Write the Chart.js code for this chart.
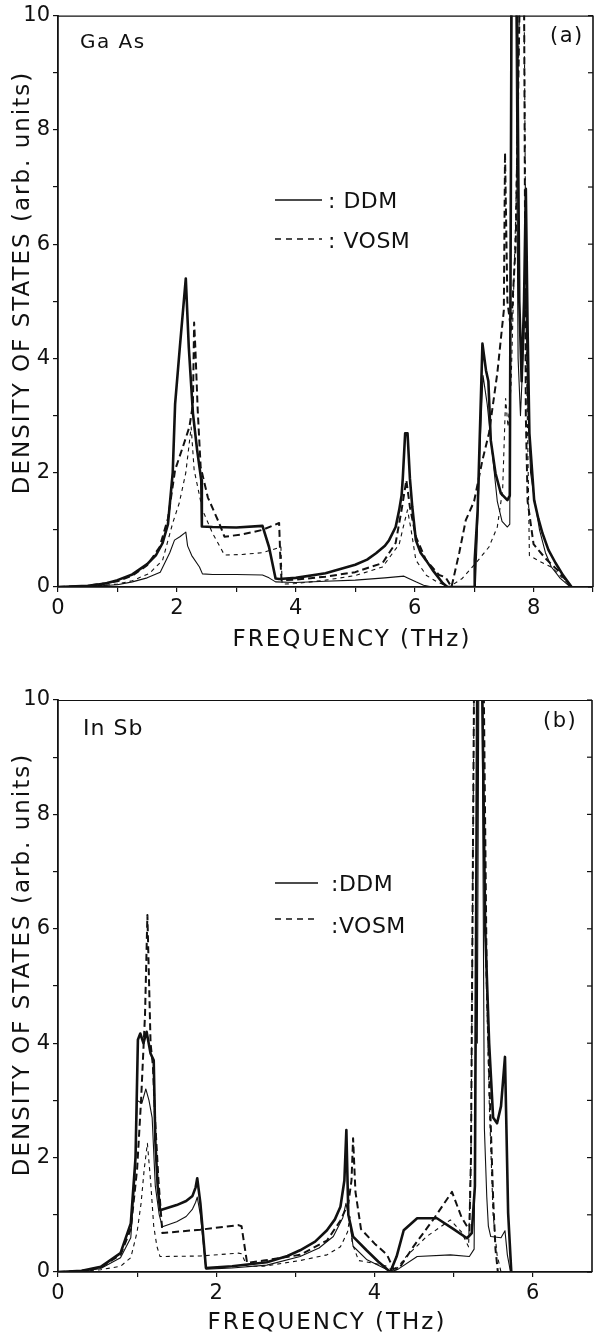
<!DOCTYPE html>
<html>
<head>
<meta charset="utf-8">
<script src="https://cdn.jsdelivr.net/npm/chart.js@4.4.1/dist/chart.umd.min.js"></script>
<style>
html,body{margin:0;padding:0;background:#fff;width:597px;height:1338px;overflow:hidden;}
.box{position:absolute;left:0;width:597px;}
canvas{display:block;}
</style>
</head>
<body>
<div class="box" style="top:0;height:670px"><canvas id="c1" width="597" height="670"></canvas></div>
<div class="box" style="top:680px;height:658px"><canvas id="c2" width="597" height="658"></canvas></div>
<script>
// ---------------- DATA ----------------
const legendLabels = ['DDM', 'VOSM'];
const yTickLabels = ['0', '2', '4', '6', '8', '10'];
const gaasXTickLabels = ['0', '2', '4', '6', '8'];
const insbXTickLabels = ['0', '2', '4', '6'];
const yTitle = 'DENSITY OF STATES (arb. units)';
const xTitle = 'FREQUENCY (THz)';

// (a) GaAs  — frequency (THz) / density of states
const gaasDdmThickF = [0, 0.5, 0.8, 1.0, 1.25, 1.5, 1.65, 1.76, 1.85, 1.93, 1.97, 2.05, 2.15, 2.2, 2.27, 2.34, 2.41, 2.42, 2.6, 3.0, 3.44, 3.55, 3.66, 3.72, 4.0, 4.5, 5.0, 5.2, 5.35, 5.5, 5.57, 5.68, 5.74, 5.78, 5.8, 5.84, 5.88, 5.92, 5.96, 6.02, 6.1, 6.19, 6.3, 6.47, 6.55, 7.0, 7.01, 7.06, 7.14, 7.2, 7.24, 7.28, 7.36, 7.45, 7.56, 7.6, 7.63, 7.72, 7.76, 7.8, 7.84, 7.87, 7.9, 7.93, 8.01, 8.08, 8.15, 8.25, 8.37, 8.5, 8.64];
const gaasDdmThickV = [0, 0.02, 0.06, 0.12, 0.22, 0.4, 0.56, 0.77, 1.1, 2.0, 3.2, 4.2, 5.4, 4.2, 3.04, 2.4, 1.87, 1.06, 1.05, 1.04, 1.07, 0.7, 0.15, 0.14, 0.16, 0.24, 0.39, 0.48, 0.59, 0.72, 0.82, 1.05, 1.35, 1.6, 1.9, 2.69, 2.69, 1.9, 1.4, 0.82, 0.6, 0.47, 0.3, 0.07, 0, 0, 0.47, 1.35, 4.26, 3.79, 3.6, 2.57, 1.99, 1.64, 1.52, 1.6, 10.5, 10.5, 5.0, 3.6, 5.0, 6.97, 4.5, 2.69, 1.52, 1.2, 0.94, 0.65, 0.42, 0.2, 0];

const gaasDdmThinF = [0, 0.5, 1.0, 1.25, 1.5, 1.72, 1.88, 1.96, 2.05, 2.15, 2.18, 2.25, 2.38, 2.43, 2.6, 3.0, 3.44, 3.55, 3.66, 4.0, 4.5, 5.0, 5.5, 5.82, 5.9, 6.02, 6.15, 6.3, 7.02, 7.05, 7.1, 7.15, 7.22, 7.3, 7.39, 7.47, 7.56, 7.6, 7.62, 7.7, 7.74, 7.78, 7.83, 7.87, 7.9, 7.95, 8.01, 8.1, 8.2, 8.3, 8.45, 8.62];
const gaasDdmThinV = [0, 0.01, 0.04, 0.09, 0.16, 0.26, 0.6, 0.82, 0.88, 0.96, 0.72, 0.55, 0.35, 0.23, 0.22, 0.22, 0.21, 0.16, 0.09, 0.08, 0.1, 0.12, 0.16, 0.19, 0.15, 0.09, 0.03, 0, 0, 0.8, 2.5, 3.7, 3.2, 2.4, 1.5, 1.15, 1.05, 1.1, 10.5, 10.5, 4.0, 3.0, 4.2, 5.2, 3.3, 2.0, 1.57, 1.0, 0.6, 0.35, 0.15, 0];

const gaasVosmThickF = [0, 0.5, 1.0, 1.25, 1.5, 1.71, 1.85, 1.97, 2.1, 2.21, 2.27, 2.29, 2.31, 2.35, 2.4, 2.52, 2.71, 2.8, 3.1, 3.44, 3.72, 3.74, 3.76, 4.0, 4.5, 5.0, 5.46, 5.68, 5.78, 5.86, 5.92, 6.02, 6.19, 6.41, 6.52, 6.62, 6.75, 6.86, 7.0, 7.14, 7.25, 7.39, 7.5, 7.52, 7.56, 7.62, 7.7, 7.77, 7.84, 7.87, 7.9, 8.0, 8.2, 8.4, 8.64];
const gaasVosmThickV = [0, 0.02, 0.1, 0.2, 0.38, 0.7, 1.2, 2.05, 2.45, 2.8, 3.2, 4.63, 4.2, 3.1, 2.1, 1.57, 1.12, 0.88, 0.92, 1.0, 1.12, 0.5, 0.12, 0.13, 0.18, 0.26, 0.42, 0.77, 1.35, 1.87, 1.4, 0.88, 0.47, 0.21, 0.17, 0, 0.6, 1.17, 1.5, 2.22, 2.69, 3.74, 4.84, 7.6, 5.0, 4.5, 6.0, 10.5, 10.5, 3.0, 1.5, 0.75, 0.5, 0.3, 0];

const gaasVosmThinF = [0, 0.5, 1.0, 1.25, 1.54, 1.76, 1.93, 2.04, 2.15, 2.24, 2.29, 2.43, 2.6, 2.8, 3.1, 3.44, 3.75, 3.77, 4.0, 4.5, 5.0, 5.46, 5.74, 5.82, 5.88, 5.94, 6.02, 6.2, 6.36, 6.58, 6.8, 7.03, 7.25, 7.39, 7.48, 7.53, 7.57, 7.62, 7.7, 7.77, 7.84, 7.88, 7.91, 7.93, 8.1, 8.3, 8.64];
const gaasVosmThinV = [0, 0.01, 0.05, 0.11, 0.24, 0.47, 1.12, 1.47, 2.0, 2.8, 2.05, 1.35, 0.94, 0.56, 0.57, 0.6, 0.7, 0.05, 0.06, 0.12, 0.2, 0.35, 0.75, 1.1, 1.35, 1.0, 0.47, 0.2, 0.1, 0, 0.15, 0.42, 0.7, 1.05, 1.7, 3.3, 2.8, 3.5, 6.5, 10.5, 10.5, 4.0, 2.0, 0.55, 0.45, 0.35, 0];

// (b) InSb
const insbDdmThickF = [0, 0.3, 0.54, 0.79, 0.92, 0.98, 1.01, 1.04, 1.08, 1.12, 1.17, 1.21, 1.23, 1.26, 1.29, 1.5, 1.62, 1.7, 1.74, 1.76, 1.8, 1.87, 2.2, 2.64, 2.9, 3.06, 3.25, 3.4, 3.5, 3.57, 3.62, 3.645, 3.67, 3.73, 3.9, 4.05, 4.2, 4.28, 4.37, 4.54, 4.79, 5.0, 5.17, 5.23, 5.27, 5.3, 5.36, 5.4, 5.45, 5.5, 5.55, 5.6, 5.65, 5.69, 5.73];
const insbDdmThickV = [0, 0.02, 0.09, 0.33, 0.85, 2.0, 4.06, 4.17, 4.0, 4.2, 3.82, 3.7, 2.3, 1.5, 1.08, 1.17, 1.24, 1.33, 1.48, 1.64, 1.2, 0.07, 0.1, 0.17, 0.28, 0.38, 0.53, 0.73, 0.92, 1.14, 1.6, 2.48, 1.0, 0.62, 0.38, 0.18, 0, 0.27, 0.73, 0.94, 0.94, 0.75, 0.59, 0.68, 1.5, 10.5, 10.5, 6.0, 4.0, 2.7, 2.6, 2.9, 3.76, 1.03, 0];

const insbDdmThinF = [0, 0.3, 0.54, 0.79, 0.92, 0.97, 1.0, 1.06, 1.11, 1.15, 1.19, 1.23, 1.28, 1.32, 1.5, 1.62, 1.7, 1.74, 1.76, 1.8, 1.87, 2.2, 2.64, 3.06, 3.3, 3.48, 3.6, 3.64, 3.69, 3.73, 3.9, 4.15, 4.2, 4.3, 4.54, 4.96, 5.2, 5.26, 5.28, 5.3, 5.32, 5.36, 5.39, 5.42, 5.44, 5.47, 5.6, 5.65, 5.68, 5.72];
const insbDdmThinV = [0, 0.01, 0.06, 0.25, 0.6, 1.6, 3.0, 2.95, 3.2, 3.0, 2.7, 1.5, 1.0, 0.79, 0.88, 0.97, 1.1, 1.22, 1.31, 1.0, 0.05, 0.07, 0.12, 0.27, 0.42, 0.62, 0.95, 1.2, 0.85, 0.45, 0.22, 0.05, 0, 0.05, 0.27, 0.3, 0.27, 0.4, 4.2, 4.0, 10.5, 10.5, 2.5, 1.31, 0.8, 0.62, 0.6, 0.72, 0.3, 0];

const insbVosmThickF = [0, 0.3, 0.54, 0.79, 0.92, 1.0, 1.05, 1.1, 1.13, 1.17, 1.2, 1.23, 1.27, 1.32, 1.8, 2.28, 2.32, 2.39, 2.6, 3.06, 3.4, 3.57, 3.67, 3.71, 3.73, 3.76, 3.83, 4.0, 4.16, 4.24, 4.33, 4.49, 4.74, 4.98, 5.1, 5.2, 5.22, 5.26, 5.38, 5.42, 5.46, 5.5, 5.53, 5.56];
const insbVosmThickV = [0, 0.02, 0.08, 0.3, 0.75, 1.8, 3.0, 4.5, 6.24, 4.0, 3.6, 2.6, 1.6, 0.68, 0.74, 0.82, 0.8, 0.16, 0.2, 0.3, 0.55, 0.9, 1.2, 1.6, 2.34, 1.4, 0.75, 0.5, 0.3, 0.05, 0.1, 0.44, 0.91, 1.4, 0.96, 0.73, 2.0, 10.5, 10.5, 5.0, 3.0, 1.3, 0.4, 0];

const insbVosmThinF = [0, 0.3, 0.54, 0.79, 0.92, 1.0, 1.05, 1.09, 1.13, 1.17, 1.21, 1.25, 1.29, 1.8, 2.28, 2.32, 2.39, 2.6, 3.06, 3.4, 3.57, 3.66, 3.69, 3.72, 3.8, 4.0, 4.16, 4.25, 4.4, 4.66, 4.96, 5.1, 5.19, 5.22, 5.26, 5.36, 5.4, 5.45, 5.5, 5.55, 5.6];
const insbVosmThinV = [0, 0.01, 0.04, 0.1, 0.25, 0.7, 1.2, 1.8, 2.25, 1.6, 0.8, 0.45, 0.27, 0.28, 0.33, 0.32, 0.1, 0.1, 0.2, 0.3, 0.44, 0.7, 0.97, 0.5, 0.2, 0.15, 0.1, 0, 0.27, 0.62, 0.91, 0.7, 0.44, 2.0, 10.5, 10.5, 6.0, 3.0, 1.0, 0.3, 0];

// ---------------- RENDERING ----------------
const INK = '#111';
const FONT = '"DejaVu Sans", "Liberation Sans", sans-serif';

function pts(F, V) { return F.map((f, i) => ({ x: f, y: V[i] })); }

function drawText(ctx, s, x, y, size, sp, align, base, rot) {
  ctx.save();
  ctx.translate(x, y);
  if (rot) ctx.rotate(rot);
  ctx.font = size + 'px ' + FONT;
  ctx.fillStyle = INK;
  ctx.textAlign = align;
  ctx.textBaseline = base;
  if ('letterSpacing' in ctx) ctx.letterSpacing = sp + 'px';
  ctx.fillText(s, 0, 0);
  ctx.restore();
}

const decor = {
  id: 'decor',
  afterDraw(chart, args, o) {
    const { ctx, chartArea: a, scales } = chart;
    ctx.save();
    ctx.strokeStyle = INK;
    ctx.lineCap = 'butt';
    ctx.lineWidth = 1.2;
    ctx.beginPath(); ctx.moveTo(a.left, a.top + 0.5); ctx.lineTo(a.right, a.top + 0.5); ctx.stroke();
    ctx.lineWidth = 1.6;
    ctx.beginPath(); ctx.moveTo(a.right, a.top); ctx.lineTo(a.right, a.bottom); ctx.stroke();
    ctx.lineWidth = 1.2;
    scales.y.ticks.forEach(t => {
      const y = scales.y.getPixelForValue(t.value);
      ctx.beginPath(); ctx.moveTo(a.right - 5, y); ctx.lineTo(a.right, y); ctx.stroke();
    });
    drawText(ctx, yTitle, o.yT[0], o.yT[1], 23, 2, 'center', 'middle', -Math.PI / 2);
    drawText(ctx, xTitle, o.xT[0], o.xT[1], 23, 2, 'center', 'middle', 0);
    drawText(ctx, o.tag, o.tagPos[0], o.tagPos[1], o.tagPos[2], o.tagPos[3], 'left', 'alphabetic', 0);
    drawText(ctx, o.panel, o.panelPos[0], o.panelPos[1], 21, 1.5, 'left', 'alphabetic', 0);
    const L = o.leg;
    ctx.lineWidth = 1.5;
    ctx.setLineDash([]);
    ctx.beginPath(); ctx.moveTo(L[0], L[2]); ctx.lineTo(L[1], L[2]); ctx.stroke();
    ctx.setLineDash([6, 5]);
    ctx.beginPath(); ctx.moveTo(L[0], L[3]); ctx.lineTo(L[1], L[3]); ctx.stroke();
    ctx.setLineDash([]);
    drawText(ctx, o.sep + legendLabels[0], L[4], L[5], 22, 0.5, 'left', 'alphabetic', 0);
    drawText(ctx, o.sep + legendLabels[1], L[4], L[6], 22, 0.5, 'left', 'alphabetic', 0);
    ctx.restore();
  }
};

const thick = { borderWidth: 2.6 };
const thin = { borderWidth: 1.1 };

function makeChart(id, c) {
  const base = { borderColor: INK, backgroundColor: INK, pointRadius: 0, tension: 0, fill: false, borderJoinStyle: 'round', borderCapStyle: 'butt' };
  return new Chart(document.getElementById(id), {
    type: 'line',
    data: {
      datasets: [
        Object.assign({ label: legendLabels[0], data: pts(c.s[0], c.s[1]) }, base, thick),
        Object.assign({ label: legendLabels[0], data: pts(c.s[2], c.s[3]) }, base, thin),
        Object.assign({ label: legendLabels[1], data: pts(c.s[4], c.s[5]), borderDash: [7, 4] }, base, { borderWidth: 2.0 }),
        Object.assign({ label: legendLabels[1], data: pts(c.s[6], c.s[7]), borderDash: [4, 4] }, base, thin)
      ]
    },
    options: {
      responsive: false,
      animation: false,
      devicePixelRatio: 1,
      layout: { padding: { left: 0, right: c.padRight, top: c.padTop, bottom: 0 } },
      plugins: { legend: { display: false }, tooltip: { enabled: false }, decor: c.decor },
      scales: {
        x: {
          type: 'linear', min: 0, max: c.xMax,
          afterFit: s => { s.height = c.xAxisH; },
          ticks: {
            stepSize: 1, autoSkip: false, includeBounds: false, maxRotation: 0, padding: 4,
            color: INK, font: { family: FONT, size: 21 },
            callback: v => c.xLabels.includes(String(v)) ? String(v) : ''
          },
          grid: { drawOnChartArea: false, drawTicks: true, tickLength: 5, color: INK, lineWidth: 1.2 },
          border: { display: true, color: INK, width: 1.8 }
        },
        y: {
          type: 'linear', min: 0, max: 10,
          afterFit: s => { s.width = 58; },
          ticks: {
            stepSize: 1, autoSkip: false, padding: 3,
            color: INK, font: { family: FONT, size: 21 },
            callback: v => yTickLabels.includes(String(v)) ? String(v) : ''
          },
          grid: { drawOnChartArea: false, drawTicks: true, tickLength: 5, color: INK, lineWidth: 1.2 },
          border: { display: true, color: INK, width: 1.8 }
        }
      }
    },
    plugins: [decor]
  });
}

makeChart('c1', {
  s: [gaasDdmThickF, gaasDdmThickV, gaasDdmThinF, gaasDdmThinV, gaasVosmThickF, gaasVosmThickV, gaasVosmThinF, gaasVosmThinV],
  xMax: 9, xLabels: gaasXTickLabels, padTop: 15, padRight: 3, xAxisH: 83,
  decor: {
    yT: [23, 282.5], xT: [352, 640],
    tag: 'Ga As', tagPos: [80, 48, 20, 1.5],
    panel: '(a)', panelPos: [550, 42],
    sep: ': ', leg: [275, 322, 200, 239, 328, 208, 248]
  }
});

makeChart('c2', {
  s: [insbDdmThickF, insbDdmThickV, insbDdmThinF, insbDdmThinV, insbVosmThickF, insbVosmThickV, insbVosmThinF, insbVosmThinV],
  xMax: 6.75, xLabels: insbXTickLabels, padTop: 20, padRight: 5, xAxisH: 66,
  decor: {
    yT: [23, 284.5], xT: [327, 643],
    tag: 'In Sb', tagPos: [83, 55, 22, 1],
    panel: '(b)', panelPos: [543, 47],
    sep: ':', leg: [275, 318, 203, 239, 331, 211, 253]
  }
});
</script>
</body>
</html>
